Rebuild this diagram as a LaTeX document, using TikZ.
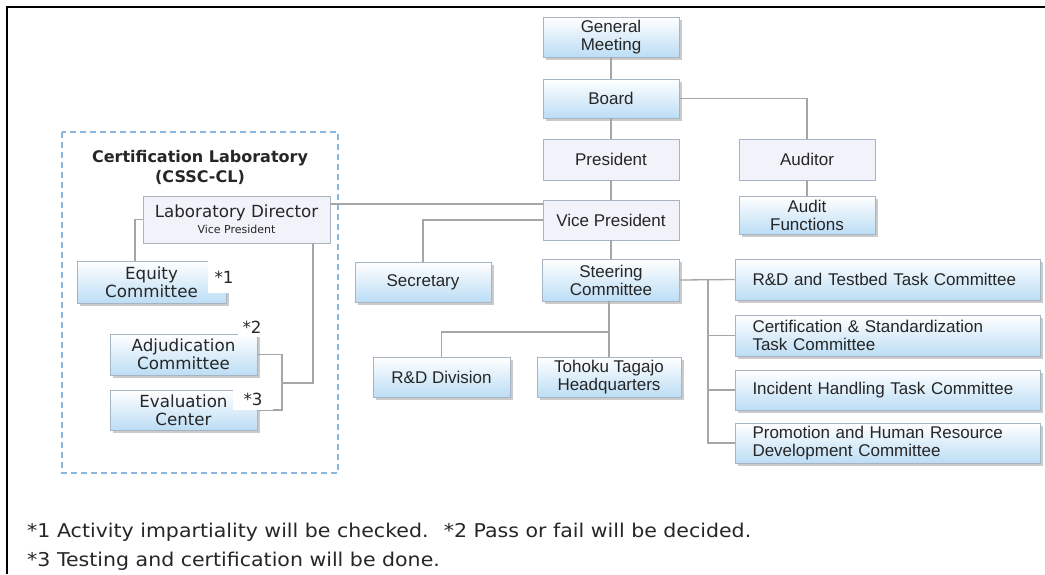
\documentclass[tikz,border=0pt]{standalone}
\usepackage{fontspec}
\setmainfont{Liberation Sans}
\newfontfamily\vfont{DejaVu Sans}
\newfontfamily\nfont[FakeStretch=1.08]{DejaVu Sans}
\usetikzlibrary{shadows,calc}
\definecolor{txt}{HTML}{262626}
\definecolor{bord}{HTML}{A9B4C2}
\definecolor{flatfill}{HTML}{F2F3FA}
\definecolor{blueb}{HTML}{BCDDF5}
\definecolor{conncol}{HTML}{A6A6A6}
\definecolor{dashc}{HTML}{8CB6E0}
\tikzset{
 base/.style={draw=bord, line width=0.8pt, inner sep=0pt, text=txt, align=center, font=\fontsize{17}{18}\selectfont},
 gradbox/.style={base, top color=white, bottom color=blueb, drop shadow={shadow xshift=2.5pt, shadow yshift=-2.5pt, fill=black!40, opacity=0.5}},
 flatbox/.style={base, fill=flatfill},
 vtext/.style={font=\vfont\fontsize{16.7}{18}\selectfont},
 conn/.style={draw=conncol, line width=1.3pt},
 starlab/.style={fill=white, inner sep=0pt, text=txt, font=\vfont\fontsize{16.7}{18}\selectfont},
 wide/.style={gradbox, minimum width=305pt, text width=270pt, align=left, inner xsep=17.5pt},
 note/.style={anchor=west, inner sep=0pt, text=black!85, font=\nfont\fontsize{19}{22}\selectfont},
}
\begin{document}
\begin{tikzpicture}[x=1pt,y=-1pt]
\useasboundingbox (0,0) rectangle (1045,574);
\fill[white] (0,0) rectangle (1045,574);
% frame
\draw[line width=2pt] (7,574) -- (7,7) -- (1045,7);
% dashed lab area
\draw[dashc, line width=1.3pt, dash pattern=on 6pt off 4pt] (62,132) rectangle (338,473);
\node[align=center, text=black!85, font=\vfont\bfseries\fontsize{16}{20}\selectfont] (title) at (200,167) {Certification Laboratory\\(CSSC-CL)};
% main chain
\node[gradbox, minimum width=136pt, minimum height=40pt] (gm) at (611,37) {General\\Meeting};
\node[gradbox, minimum width=136pt, minimum height=39pt] (board) at (611,98.5) {Board};
\node[flatbox, minimum width=136pt, minimum height=41pt] (pres) at (611,159.5) {President};
\node[flatbox, minimum width=136pt, minimum height=40pt] (vp) at (611,220) {Vice President};
\node[flatbox, minimum width=136pt, minimum height=41pt] (aud) at (807,159.5) {Auditor};
\node[gradbox, minimum width=136pt, minimum height=38pt] (af) at (807,215) {Audit\\Functions};
\node[gradbox, minimum width=136pt, minimum height=40pt] (sec) at (423,282) {Secretary};
\node[gradbox, minimum width=137pt, minimum height=42pt] (steer) at (611,280) {Steering\\Committee};
\node[gradbox, minimum width=137pt, minimum height=40pt] (rd) at (441.5,377) {R\&D Division};
\node[gradbox, minimum width=144pt, minimum height=40pt] (toh) at (609,377) {Tohoku Tagajo\\Headquarters};
\node[wide, minimum height=41pt] (r1) at (887.5,279.5) {R\&D and Testbed Task Committee};
\node[wide, minimum height=41pt] (r2) at (887.5,335.5) {Certification \& Standardization\\Task Committee};
\node[wide, minimum height=40pt] (r3) at (887.5,390) {Incident Handling Task Committee};
\node[wide, minimum height=40pt] (r4) at (887.5,443) {Promotion and Human Resource\\Development Committee};
% lab
\node[flatbox, vtext, minimum width=187pt, minimum height=47pt] (lab) at (236.5,219.5) {Laboratory Director\\[-2pt]{\fontsize{11}{12}\selectfont Vice President}};
\node[gradbox, vtext, minimum width=149pt, minimum height=42pt] (eq) at (151.5,282) {Equity\\Committee};
\node[gradbox, vtext, minimum width=147pt, minimum height=41pt] (adj) at (183.5,354.5) {Adjudication\\Committee};
\node[gradbox, vtext, minimum width=147pt, minimum height=40pt] (ev) at (183.5,410) {Evaluation\\Center};
% connectors
\draw[conn] (gm) -- (board);
\draw[conn] (board) -- (pres);
\draw[conn] (pres) -- (vp);
\draw[conn] (board.east) -| (aud.north);
\draw[conn] (aud) -- (af);
\draw[conn] (vp) -- (steer);
\draw[conn] ([yshift=15.5pt]lab.east) -- ([yshift=15.5pt]lab.east -| vp.west);
\draw[conn] (vp.west) -| (sec.north);
\coordinate (j1) at (609,332);
\draw[conn] (steer.south -| toh.north) -- (toh.north);
\draw[conn] (j1) -| (rd.north);
\draw[conn] (steer.east) -- (r1.west);
\coordinate (tx) at (708,280);
\draw[conn] (tx) |- (r4.west);
\draw[conn] (tx |- r2.west) -- (r2.west);
\draw[conn] (tx |- r3.west) -- (r3.west);
\draw[conn] (lab.west) -| ([xshift=-16.5pt]eq.north);
\coordinate (bk) at (282,383);
\draw[conn] ([xshift=76.5pt]lab.south) |- (bk);
\draw[conn] (adj.east) -| (bk |- ev.east) -- (ev.east);
% footnote marks
\node[starlab, minimum width=32pt, minimum height=32pt] (s1) at (224,277) {*1};
\node[starlab, minimum width=28pt, minimum height=20pt] (s2) at (252,327) {*2};
\node[starlab, minimum width=40pt, minimum height=22pt] (s3) at (253,399) {*3};
% notes
\node[note] (n1) at (27,532) {*1 Activity impartiality will be checked.~ *2 Pass or fail will be decided.};
\node[note] (n2) at (27,561) {*3 Testing and certification will be done.};
\end{tikzpicture}
\end{document}
